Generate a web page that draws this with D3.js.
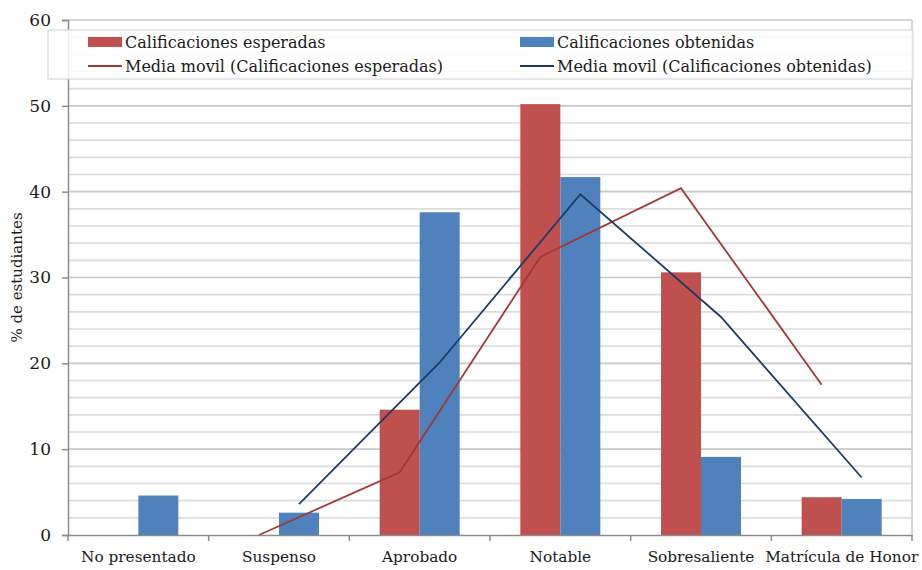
<!DOCTYPE html>
<html>
<head>
<meta charset="utf-8">
<script src="https://cdn.jsdelivr.net/npm/d3@7/dist/d3.min.js"></script>
<style>
  html, body { margin: 0; padding: 0; background: #fff; }
  svg { display: block; }
  text { font-family: "DejaVu Serif", "Liberation Serif", serif; fill: #1a1a1a; }
</style>
</head>
<body>
<svg id="chart" width="922" height="570"></svg>
<script>
const categories = ["No presentado", "Suspenso", "Aprobado", "Notable", "Sobresaliente", "Matrícula de Honor"];
const esperadas = [0, 0, 14.6, 50.2, 30.6, 4.4];
const obtenidas = [4.6, 2.6, 37.6, 41.7, 9.1, 4.2];
// moving averages (period 2)
const mediaEsperadas = [null, 0, 7.3, 32.4, 40.4, 17.5];
const mediaObtenidas = [null, 3.6, 20.1, 39.7, 25.4, 6.7];
const yTicks = [0, 10, 20, 30, 40, 50, 60];
const seriesNames = ["Calificaciones esperadas", "Calificaciones obtenidas"];
const lineNames = ["Media movil (Calificaciones esperadas)", "Media movil (Calificaciones obtenidas)"];
const barColors = ["#C0504D", "#4F81BD"];
const lineColors = ["#9E3B38", "#1F3A64"];

const svg = d3.select("#chart");
const m = { left: 68, right: 10, top: 20, bottom: 35 };
const W = 922, H = 570;
const pw = W - m.left - m.right, ph = H - m.top - m.bottom;

const x = d3.scaleBand().domain(categories).range([m.left, m.left + pw]).padding(0);
const bw = x.bandwidth();
const x1 = d3.scaleBand().domain([0, 1]).range([bw / 2 - 40, bw / 2 + 40]).padding(0);
const y = d3.scaleLinear().domain([0, 60]).range([m.top + ph, m.top]);

// minor/major gridlines every 2
const grid = d3.range(2, 61, 2);
svg.append("g").selectAll("line").data(grid).join("line")
  .attr("x1", m.left).attr("x2", m.left + pw)
  .attr("y1", d => y(d)).attr("y2", d => y(d))
  .attr("stroke", d => d % 10 === 0 ? "#c8c8c8" : "#dcdcdc")
  .attr("stroke-width", 1.6);

// right border
svg.append("line").attr("x1", m.left + pw).attr("x2", m.left + pw)
  .attr("y1", m.top).attr("y2", m.top + ph).attr("stroke", "#c8c8c8").attr("stroke-width", 1.5);

// bars
const data = categories.map((c, i) => ({ c, v: [esperadas[i], obtenidas[i]] }));
const g = svg.append("g");
data.forEach(d => {
  d.v.forEach((v, s) => {
    if (v > 0) {
      g.append("rect")
        .attr("x", x(d.c) + x1(s))
        .attr("width", x1.bandwidth())
        .attr("y", y(v))
        .attr("height", y(0) - y(v))
        .attr("fill", barColors[s]);
    }
  });
});

// moving-average lines at the bar centres
[mediaEsperadas, mediaObtenidas].forEach((arr, s) => {
  const pts = categories.map((c, i) => ({ c, v: arr[i] })).filter(p => p.v !== null);
  svg.append("path").datum(pts)
    .attr("fill", "none").attr("stroke", lineColors[s]).attr("stroke-width", 1.8)
    .attr("d", d3.line().x(p => x(p.c) + x1(s) + x1.bandwidth() / 2).y(p => y(p.v)));
});

// axes
const yAxis = svg.append("g").attr("transform", `translate(${m.left},0)`)
  .call(d3.axisLeft(y).tickValues(yTicks).tickSize(6).tickPadding(11).tickFormat(d3.format("d")));
yAxis.select(".domain").attr("stroke", "#8c8c8c").attr("stroke-width", 1.5);
yAxis.selectAll(".tick line").attr("stroke", "#8c8c8c").attr("stroke-width", 1.5);
yAxis.selectAll(".tick text").style("font-size", "17px").attr("fill", "#1a1a1a")
  .style("font-family", "DejaVu Serif, serif");

const xAxis = svg.append("g").attr("transform", `translate(0,${y(0)})`)
  .call(d3.axisBottom(x).tickSize(0).tickPadding(16));
xAxis.select(".domain").attr("stroke", "#8c8c8c").attr("stroke-width", 1.5);
xAxis.selectAll(".tick text").style("font-size", "15.3px").attr("fill", "#1a1a1a")
  .style("font-family", "DejaVu Serif, serif");
// category separator ticks
svg.append("g").selectAll("line").data(d3.range(categories.length + 1)).join("line")
  .attr("x1", i => m.left + i * bw).attr("x2", i => m.left + i * bw)
  .attr("y1", y(0)).attr("y2", y(0) + 6)
  .attr("stroke", "#8c8c8c").attr("stroke-width", 1.5);

// y-axis title
svg.append("text")
  .attr("transform", `translate(22,${m.top + ph / 2}) rotate(-90)`)
  .attr("text-anchor", "middle")
  .style("font-size", "15px")
  .text("% de estudiantes");

// legend
const lg = svg.append("g");
lg.append("rect").attr("x", 48).attr("y", 30).attr("width", 865).attr("height", 49)
  .attr("fill", "#fff").attr("fill-opacity", 0.85).attr("stroke", "#d0d0d0").attr("stroke-width", 1);
const lx = [88, 520];
seriesNames.forEach((n, s) => {
  lg.append("rect").attr("x", lx[s]).attr("y", 37).attr("width", 34).attr("height", 10).attr("fill", barColors[s]);
  lg.append("text").attr("x", lx[s] + 37).attr("y", 48).style("font-size", "16px").text(n);
});
lineNames.forEach((n, s) => {
  lg.append("line").attr("x1", lx[s]).attr("x2", lx[s] + 34).attr("y1", 66).attr("y2", 66)
    .attr("stroke", lineColors[s]).attr("stroke-width", 1.8);
  lg.append("text").attr("x", lx[s] + 37).attr("y", 72).style("font-size", "16px").text(n);
});
</script>
</body>
</html>
